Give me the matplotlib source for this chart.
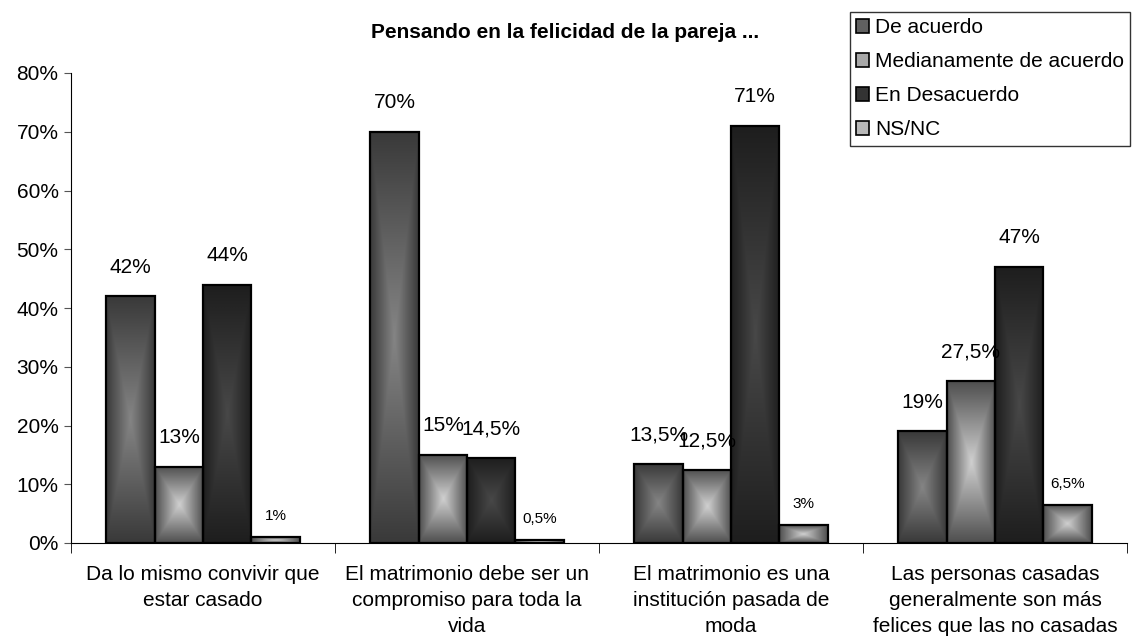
import numpy as np
import matplotlib
matplotlib.use('Agg')
import matplotlib.pyplot as plt
from matplotlib.patches import Patch
from matplotlib.colors import LinearSegmentedColormap

plt.rcParams['font.family'] = ['Liberation Sans', 'DejaVu Sans']

title = 'Pensando en la felicidad de la pareja ...'
categories = ['Da lo mismo convivir que\nestar casado',
              'El matrimonio debe ser un\ncompromiso para toda la\nvida',
              'El matrimonio es una\ninstitución pasada de\nmoda',
              'Las personas casadas\ngeneralmente son más\nfelices que las no casadas']
series_names = ['De acuerdo', 'Medianamente de acuerdo', 'En Desacuerdo', 'NS/NC']
de_acuerdo = [42, 70, 13.5, 19]
medianamente = [13, 15, 12.5, 27.5]
desacuerdo = [44, 14.5, 71, 47]
ns_nc = [1, 0.5, 3, 6.5]
yticks = [0, 10, 20, 30, 40, 50, 60, 70, 80]

series = [de_acuerdo, medianamente, desacuerdo, ns_nc]
# (edge colour, centre colour) for the rectangular "from centre" gradient
grad = [('#3a3a3a', '#858585'),
        ('#505050', '#d0d0d0'),
        ('#1e1e1e', '#484848'),
        ('#505050', '#d0d0d0')]
legend_col = ['#606060', '#a8a8a8', '#333333', '#b8b8b8']
label_size = [15, 15, 15, 11]


def fmt(v):
    return ('%g' % v).replace('.', ',') + '%'


fig = plt.figure(figsize=(11.33, 6.36), dpi=100)
ax = fig.add_axes([71 / 1133, 1 - 543 / 636, (1127 - 71) / 1133, 470 / 636])

n = 64
yy, xx = np.mgrid[-1:1:n * 1j, -1:1:n * 1j]
t = np.maximum(np.abs(xx), np.abs(yy))

bw = 0.183
start = 0.5 - 2 * bw
for s, vals in enumerate(series):
    cmap = LinearSegmentedColormap.from_list('g%d' % s, [grad[s][1], grad[s][0]])
    for i, v in enumerate(vals):
        x0 = i + start + s * bw
        ax.imshow(t, cmap=cmap, vmin=0, vmax=1, extent=(x0, x0 + bw, 0, v),
                  aspect='auto', interpolation='bilinear', zorder=2)
        ax.bar(x0, v, width=bw, align='edge', facecolor='none',
               edgecolor='black', linewidth=1.6, zorder=3)
        off = 14 if label_size[s] > 12 else 10
        ax.annotate(fmt(v), (x0 + bw / 2, v), xytext=(0, off),
                    textcoords='offset points', ha='center', va='bottom',
                    fontsize=label_size[s], zorder=4)

ax.set_xlim(0, 4)
ax.set_ylim(0, 80)
ax.set_yticks(yticks)
ax.set_yticklabels(['%d%%' % v for v in yticks], fontsize=15)
ax.set_xticks([0.5, 1.5, 2.5, 3.5])
ax.set_xticklabels(categories, fontsize=15, linespacing=1.45)
ax.tick_params(axis='x', length=0, pad=16)
ax.set_xticks([0, 1, 2, 3, 4], minor=True)
ax.tick_params(axis='x', which='minor', length=7, direction='out', color='black')
ax.tick_params(axis='y', length=5, direction='out', color='#555555', pad=4)
for sp in ['top', 'right']:
    ax.spines[sp].set_visible(False)
ax.spines['left'].set_color('black')
ax.spines['bottom'].set_color('black')

fig.text(565 / 1133, 1 - 33 / 636, title, ha='center', va='center',
         fontsize=15, fontweight='bold')

handles = [Patch(facecolor=c, edgecolor='black', linewidth=1.2) for c in legend_col]
leg = fig.legend(handles, series_names, loc='upper left',
                 bbox_to_anchor=(850 / 1133, 1 - 12 / 636), fontsize=15,
                 frameon=True, fancybox=False, edgecolor='black',
                 handlelength=0.6, handleheight=0.6, handletextpad=0.3,
                 labelspacing=0.72, borderpad=0.3, borderaxespad=0)
leg.get_frame().set_linewidth(1.0)

fig.savefig('out.png', dpi=100)
